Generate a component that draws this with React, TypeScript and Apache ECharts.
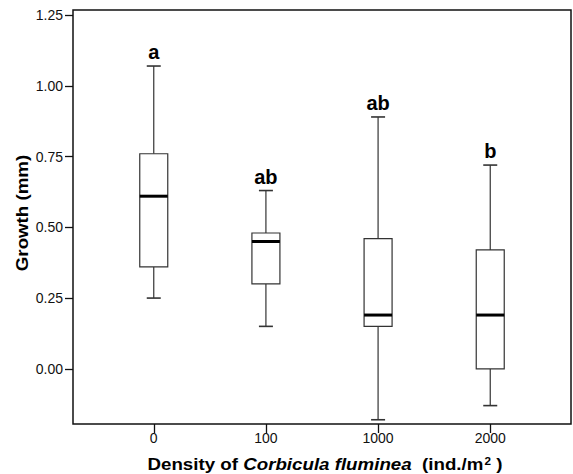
import React, { useEffect, useRef } from "react";
import * as echarts from "echarts";

const categories = ["0", "100", "1000", "2000"];
const whiskerLow = [0.25, 0.15, -0.18, -0.13];
const quartile1 = [0.36, 0.30, 0.15, 0.0];
const medians = [0.61, 0.45, 0.19, 0.19];
const quartile3 = [0.76, 0.48, 0.46, 0.42];
const whiskerHigh = [1.07, 0.63, 0.89, 0.72];
const letters = ["a", "ab", "ab", "b"];
const yTicks = [0, 0.25, 0.5, 0.75, 1.0, 1.25];

const FONT = '"Liberation Sans", Arial, Helvetica, sans-serif';

export default function App() {
  const ref = useRef<HTMLDivElement>(null);
  useEffect(() => {
    if (!ref.current) return;
    const chart = echarts.init(ref.current, undefined, { renderer: "svg" });
    const data = categories.map((_, i) => [
      i,
      whiskerLow[i],
      quartile1[i],
      medians[i],
      quartile3[i],
      whiskerHigh[i],
    ]);
    const stroke = "#333";
    chart.setOption({
      animation: false,
      backgroundColor: "#ffffff",
      grid: {
        left: 73,
        right: 2,
        top: 10,
        bottom: 50,
        show: true,
        borderColor: "#111",
        borderWidth: 1.5,
        backgroundColor: "transparent",
      },
      xAxis: {
        type: "value",
        min: -0.72,
        max: 3.72,
        axisLine: { show: false, onZero: false },
        splitLine: { show: false },
        axisTick: {
          show: true,
          length: 9,
          customValues: categories.map((_, i) => i),
          lineStyle: { color: "#111", width: 1.3 },
        },
        axisLabel: {
          customValues: categories.map((_, i) => i),
          formatter: (v: number) => categories[Math.round(v)] ?? "",
          color: "#111",
          fontSize: 14,
          fontFamily: FONT,
          margin: 7,
        },
      },
      yAxis: {
        type: "value",
        min: -0.195,
        max: 1.268,
        axisLine: { show: false, onZero: false },
        splitLine: { show: false },
        axisTick: {
          show: true,
          length: 8,
          customValues: yTicks,
          lineStyle: { color: "#111", width: 1.3 },
        },
        axisLabel: {
          customValues: yTicks,
          formatter: (v: number) => v.toFixed(2),
          color: "#111",
          fontSize: 14,
          fontFamily: FONT,
          margin: 10,
        },
      },
      series: [
        {
          type: "custom",
          data,
          encode: { x: 0, y: [1, 2, 3, 4, 5] },
          renderItem: (params: any, api: any) => {
            const x = api.value(0);
            const cx = api.coord([x, 0])[0];
            const yLow = api.coord([x, api.value(1)])[1];
            const yQ1 = api.coord([x, api.value(2)])[1];
            const yMed = api.coord([x, api.value(3)])[1];
            const yQ3 = api.coord([x, api.value(4)])[1];
            const yHigh = api.coord([x, api.value(5)])[1];
            const bw = 28;
            const cw = 14;
            const ls = { stroke, lineWidth: 1.2 };
            return {
              type: "group",
              children: [
                { type: "line", shape: { x1: cx, y1: yHigh, x2: cx, y2: yQ3 }, style: ls },
                { type: "line", shape: { x1: cx, y1: yQ1, x2: cx, y2: yLow }, style: ls },
                { type: "line", shape: { x1: cx - cw / 2, y1: yHigh, x2: cx + cw / 2, y2: yHigh }, style: { stroke, lineWidth: 1.6 } },
                { type: "line", shape: { x1: cx - cw / 2, y1: yLow, x2: cx + cw / 2, y2: yLow }, style: { stroke, lineWidth: 1.6 } },
                {
                  type: "rect",
                  shape: { x: cx - bw / 2, y: yQ3, width: bw, height: yQ1 - yQ3 },
                  style: { fill: "#ffffff", stroke, lineWidth: 1.2 },
                },
                { type: "line", shape: { x1: cx - bw / 2, y1: yMed, x2: cx + bw / 2, y2: yMed }, style: { stroke: "#000", lineWidth: 3 } },
                {
                  type: "text",
                  x: cx,
                  y: yHigh - 4,
                  style: {
                    text: letters[params.dataIndex],
                    textAlign: "center",
                    textVerticalAlign: "bottom",
                    font: `bold 20px ${FONT}`,
                    fill: "#000",
                  },
                },
              ],
            };
          },
        },
      ],
      graphic: [
        {
          type: "text",
          x: 22,
          y: 213,
          rotation: Math.PI / 2,
          scaleX: 1.17,
          style: {
            text: "Growth (mm)",
            textAlign: "center",
            textVerticalAlign: "middle",
            font: `bold 16px ${FONT}`,
            fill: "#000",
          },
        },
        {
          type: "text",
          x: 325,
          y: 464,
          scaleX: 1.17,
          style: {
            text: "{n|Density of }{i|Corbicula fluminea}{n|  (ind./m}{s|2}{n| )}",
            textAlign: "center",
            textVerticalAlign: "middle",
            fill: "#000",
            rich: {
              n: { font: `bold 16px ${FONT}`, fill: "#000" },
              i: { font: `italic bold 16px ${FONT}`, fill: "#000" },
              s: { font: `bold 10px ${FONT}`, fill: "#000", verticalAlign: "top", padding: [0, 0, 6, 1] },
            },
          },
        },
      ],
    });
    return () => chart.dispose();
  }, []);
  return <div ref={ref} style={{ width: 573, height: 474, position: "absolute", left: 0, top: 0 }} />;
}
